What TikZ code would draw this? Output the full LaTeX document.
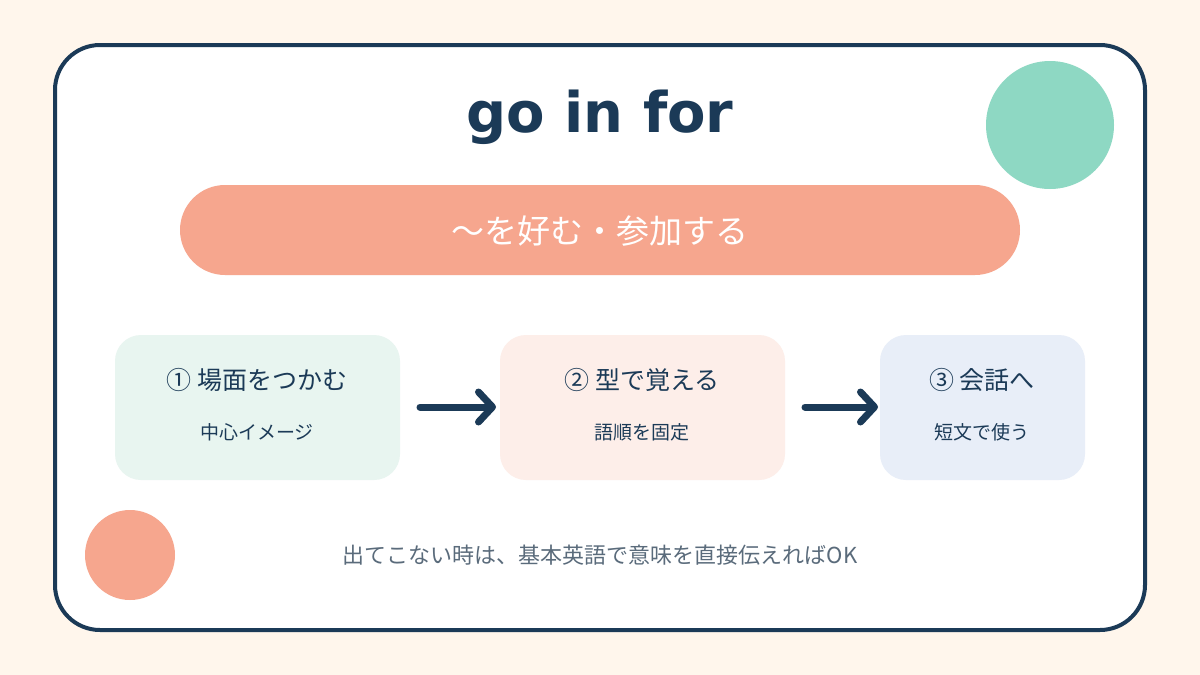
\documentclass[tikz,border=0pt]{standalone}
\usepackage{fontspec}
\setmainfont{Noto Sans CJK JP}
\newfontfamily\titlefont{DejaVu Sans}
\usetikzlibrary{arrows.meta}
\definecolor{navy}{HTML}{1B3A57}
\definecolor{cream}{HTML}{FFF6EC}
\definecolor{salmon}{HTML}{F6A68E}
\definecolor{teal}{HTML}{8ED8C3}
\definecolor{boxa}{HTML}{E8F5F0}
\definecolor{boxb}{HTML}{FDEEE9}
\definecolor{boxc}{HTML}{E8EEF8}
\definecolor{foot}{HTML}{5A6B7B}
\begin{document}
\begin{tikzpicture}[x=1pt,y=-1pt,
  stepbox/.style={rounded corners=26pt},
  head/.style={text=navy,font=\fontsize{25}{30}\selectfont},
  sub/.style={text=navy,font=\fontsize{19}{23}\selectfont},
  conn/.style={navy,line width=7pt,line cap=round,-{Straight Barb[length=14pt,width=30pt,line width=7pt,round]}}]
\fill[cream] (0,0) rectangle (1200,675);
\useasboundingbox (0,0) rectangle (1200,675);
\draw[navy,line width=4pt,fill=white,rounded corners=45pt] (55,45) rectangle (1145,630);
\fill[teal] (1050,125) circle (64);
\fill[salmon] (130,555) circle (45);
\node[text=navy,font=\titlefont\bfseries\fontsize{56}{64}\selectfont] (title) at (600,117) {go in for};
\fill[salmon,rounded corners=45pt] (180,185) rectangle (1020,275);
\node[text=white,font=\fontsize{33}{40}\selectfont] (meaning) at (600,231) {～を好む・参加する};
\fill[boxa,stepbox] (115,335) rectangle (400,480);
\fill[boxb,stepbox] (500,335) rectangle (785,480);
\fill[boxc,stepbox] (880,335) rectangle (1085,480);
\node[head] (h1) at (257,380) {① 場面をつかむ};
\node[sub] (s1) at (257,432) {中心イメージ};
\node[head] (h2) at (642,380) {② 型で覚える};
\node[sub] (s2) at (642,432) {語順を固定};
\node[head] (h3) at (982,380) {③ 会話へ};
\node[sub] (s3) at (982,432) {短文で使う};
\coordinate (a1s) at (420,407); \coordinate (a1e) at (496,407);
\coordinate (a2s) at (805,407); \coordinate (a2e) at (878,407);
\draw[conn] (a1s) -- (a1e);
\draw[conn] (a2s) -- (a2e);
\node[text=foot,font=\fontsize{22}{26}\selectfont] (footer) at (600,555) {出てこない時は、基本英語で意味を直接伝えればOK};
\end{tikzpicture}
\end{document}
